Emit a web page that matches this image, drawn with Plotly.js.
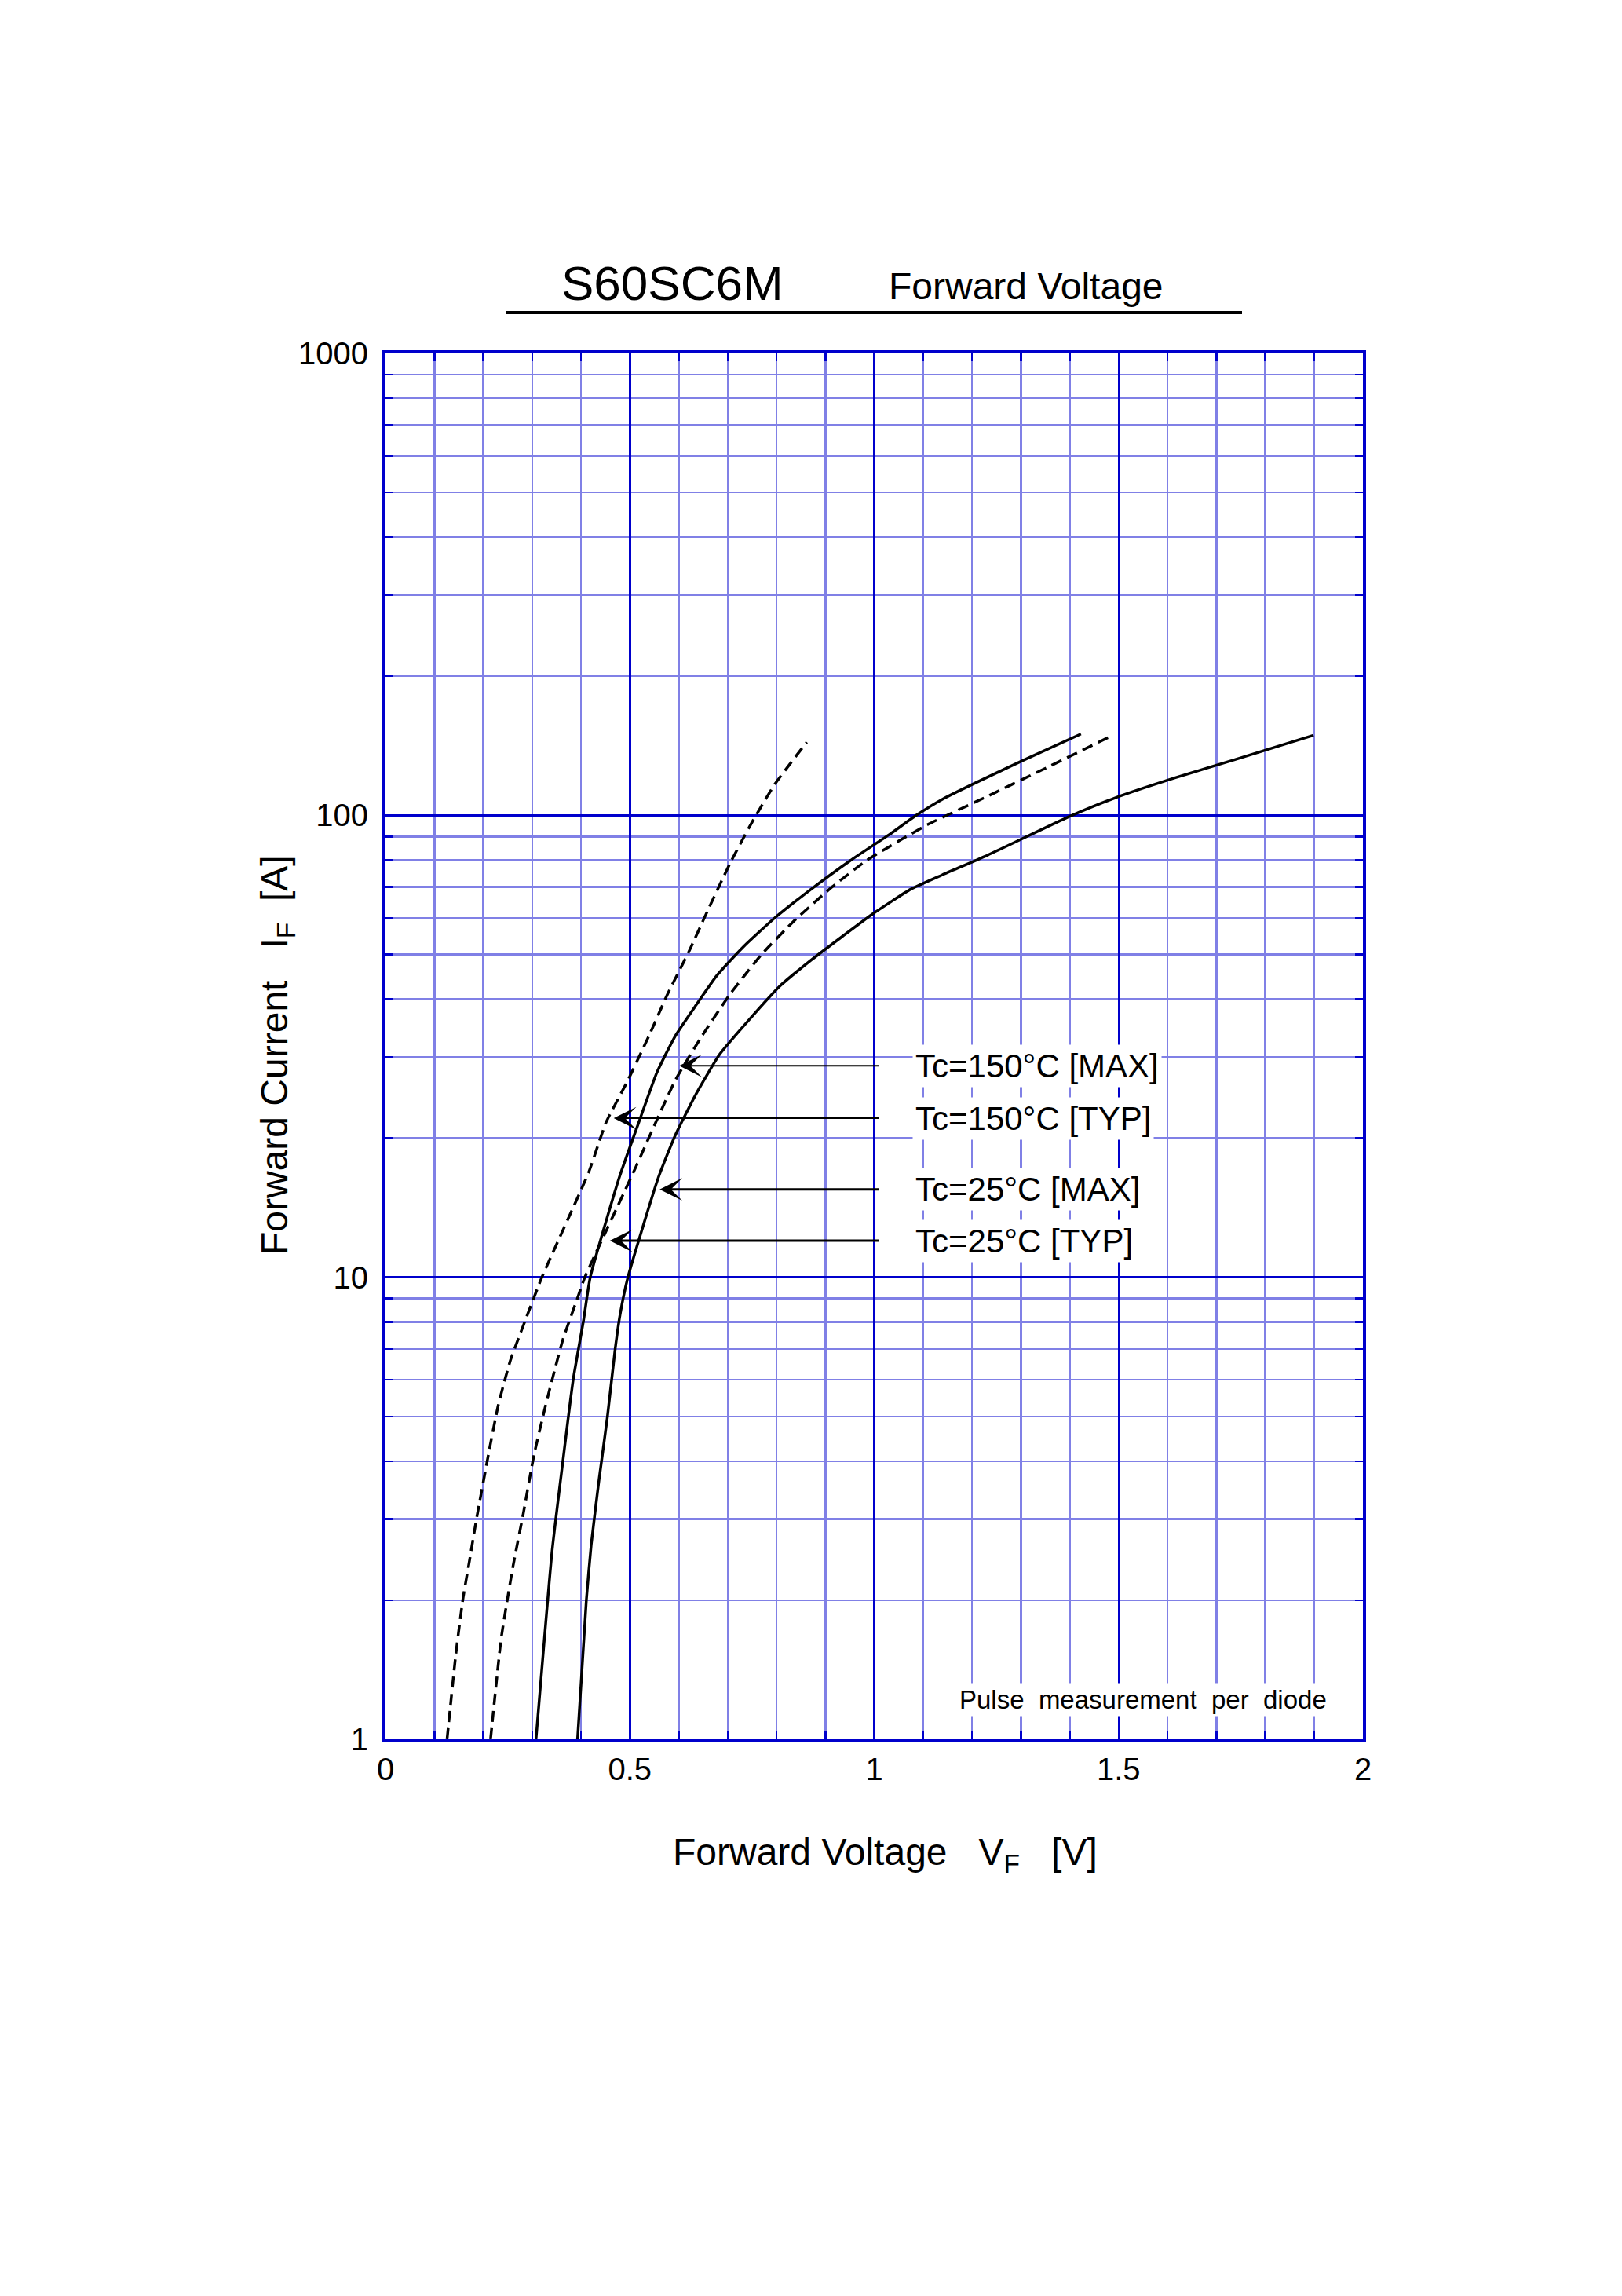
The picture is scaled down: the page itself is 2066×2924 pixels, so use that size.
<!DOCTYPE html>
<html>
<head>
<meta charset="utf-8">
<script src="https://cdn.plot.ly/plotly-3.0.1.min.js"></script>
<style>
  body { margin: 0; background: #fff; }
  #plot { width: 2066px; height: 2924px; }
</style>
</head>
<body>
<div id="plot"></div>
<script>
// curves (VF in volts, IF in amps)
const tc150TypV = [0.126, 0.144, 0.159, 0.172, 0.186, 0.213, 0.231, 0.255, 0.288, 0.320, 0.416, 0.451, 0.496, 0.539, 0.577, 0.620, 0.662, 0.705, 0.748, 0.796, 0.862]
const tc150TypI = [1, 1.53, 2.03, 2.44, 2.99, 4.26, 5.3, 6.58, 8.17, 10, 16.9, 21.6, 26.7, 33.3, 41, 50.5, 63.1, 78.7, 95.8, 116.5, 144]

const tc150MaxV = [0.215, 0.237, 0.261, 0.282, 0.304, 0.328, 0.363, 0.392, 0.408, 0.512, 0.550, 0.593, 0.646, 0.705, 0.769, 0.839, 0.914, 0.984, 1.064, 1.112, 1.232, 1.354, 1.488]
const tc150MaxI = [1, 1.66, 2.37, 3.08, 4.13, 5.3, 7.33, 8.96, 10, 17.3, 21.3, 26.7, 33.1, 41, 49.9, 59.5, 70, 79.8, 89.7, 95.8, 110, 127, 149]

const tc25TypV = [0.308, 0.341, 0.363, 0.384, 0.405, 0.419, 0.478, 0.518, 0.555, 0.593, 0.636, 0.678, 0.732, 0.796, 0.871, 0.951, 1.032, 1.086, 1.140, 1.308, 1.423]
const tc25TypI = [1, 2.56, 4.0, 6.0, 8.04, 10, 16.4, 21.6, 27.7, 33.3, 38.9, 45, 51.9, 59.9, 69.2, 79.8, 91, 100, 108.4, 132, 150]

const tc25MaxV = [0.393, 0.411, 0.421, 0.437, 0.454, 0.470, 0.480, 0.496, 0.558, 0.593, 0.636, 0.684, 0.743, 0.807, 0.871, 0.935, 1.0, 1.075, 1.139, 1.232, 1.40, 1.492, 1.615, 1.738, 1.899]
const tc25MaxI = [1, 2.0, 2.64, 3.65, 4.98, 7.0, 8.3, 10, 16.4, 20.3, 25, 30.4, 36, 42.7, 48.6, 54.7, 61.5, 69.2, 74.3, 82, 99.5, 109, 120.5, 132, 149]

// labels and where their arrows point
const curveLabels = ['Tc=150°C [MAX]', 'Tc=150°C [TYP]', 'Tc=25°C [MAX]', 'Tc=25°C [TYP]']
const arrowTipV = [0.601, 0.467, 0.561, 0.459]
const arrowTipI = [28.7, 22.1, 15.5, 12.0]
const labelLeftV = 1.078

const xTickVals = [0, 0.5, 1, 1.5, 2]
const yTickVals = [1, 10, 100, 1000]

// plot box in page pixels
const L = 491, R = 1736, T = 450, B = 2215
const px = x => (x - L) / (R - L)
const py = y => (B - y) / (B - T)

const dark = '#0000cc'
const light = '#8080e6'
const font = 'Arial, "Liberation Sans", sans-serif'

function curve(v, i, dash) {
  return {
    x: v, y: i, type: 'scatter', mode: 'lines',
    line: {color: '#000', width: 3.5, dash: dash, shape: 'spline', smoothing: 0.5},
    hoverinfo: 'skip'
  }
}

const data = [
  curve(tc150TypV, tc150TypI, '14px,8px'),
  curve(tc150MaxV, tc150MaxI, '14px,8px'),
  curve(tc25TypV, tc25TypI, 'solid'),
  curve(tc25MaxV, tc25MaxI, 'solid')
]

const arrowW = [2, 2, 3, 3]

// each label carries its own arrow: text box starts at labelLeftV,
// the line starts a little left of the box and ends on the curve
const annotations = curveLabels.map((t, k) => ({
  xref: 'x', yref: 'y', axref: 'x', ayref: 'y',
  x: arrowTipV[k], y: Math.log10(arrowTipI[k]),
  ax: labelLeftV, ay: Math.log10(arrowTipI[k]),
  xanchor: 'left', yanchor: 'middle',
  text: t, bgcolor: '#fff', borderpad: 3,
  font: {family: font, size: 42, color: '#000'},
  showarrow: true, arrowhead: 3,
  arrowwidth: arrowW[k], arrowsize: arrowW[k] == 2 ? 2.4 : 1.6,
  arrowcolor: '#000', standoff: 0, startstandoff: 43
}))

function note(text, x, y, size, extra) {
  return Object.assign({
    xref: 'paper', yref: 'paper', x: px(x), y: py(y),
    xanchor: 'center', yanchor: 'middle', showarrow: false,
    text: text, font: {family: font, size: size, color: '#000'}
  }, extra || {})
}

annotations.push(
  note('S60SC6M', 856, 360, 62),
  note('Forward Voltage', 1307, 365, 48),
  note('Pulse\u00a0\u00a0measurement\u00a0\u00a0per\u00a0\u00a0diode', 1456, 2164, 33,
       {bgcolor: '#fff', borderpad: 2}),
  note('Forward Voltage\u00a0\u00a0\u00a0V<sub>F</sub>\u00a0\u00a0\u00a0[V]', 1127, 2362, 48),
  note('Forward Current\u00a0\u00a0\u00a0I<sub>F</sub>\u00a0\u00a0[A]', 353, 1344, 48, {textangle: -90})
)

const axisCommon = {
  showline: true, linecolor: dark, linewidth: 4, mirror: 'ticks',
  showgrid: true, gridcolor: dark, gridwidth: 2.5,
  ticks: 'inside', ticklen: 10, tickwidth: 2.5, tickcolor: dark,
  zeroline: false, fixedrange: true,
  tickfont: {family: font, size: 40, color: '#000'}
}

const minorCommon = {
  showgrid: true, gridcolor: light, gridwidth: 2.5,
  ticks: 'inside', ticklen: 10, tickwidth: 2.5, tickcolor: dark
}

const layout = {
  width: 2066, height: 2924,
  margin: {l: L, r: 2066 - R, t: T, b: 2924 - B},
  paper_bgcolor: '#fff', plot_bgcolor: '#fff',
  showlegend: false,
  xaxis: Object.assign({}, axisCommon, {
    range: [0, 2], tickmode: 'array', tickvals: xTickVals,
    ticktext: xTickVals.map(String),
    minor: Object.assign({dtick: 0.1, tick0: 0}, minorCommon)
  }),
  yaxis: Object.assign({}, axisCommon, {
    type: 'log', range: [0, 3], tickmode: 'array', tickvals: yTickVals,
    ticktext: yTickVals.map(String), ticklabelstandoff: 10,
    minor: Object.assign({dtick: 'D1'}, minorCommon)
  }),
  shapes: [
    {type: 'line', xref: 'paper', yref: 'paper', x0: px(645), x1: px(1582), y0: py(398), y1: py(398),
     line: {color: '#000', width: 4}}
  ],
  annotations: annotations
}

Plotly.newPlot('plot', data, layout, {displayModeBar: false, staticPlot: true})
</script>
</body>
</html>
